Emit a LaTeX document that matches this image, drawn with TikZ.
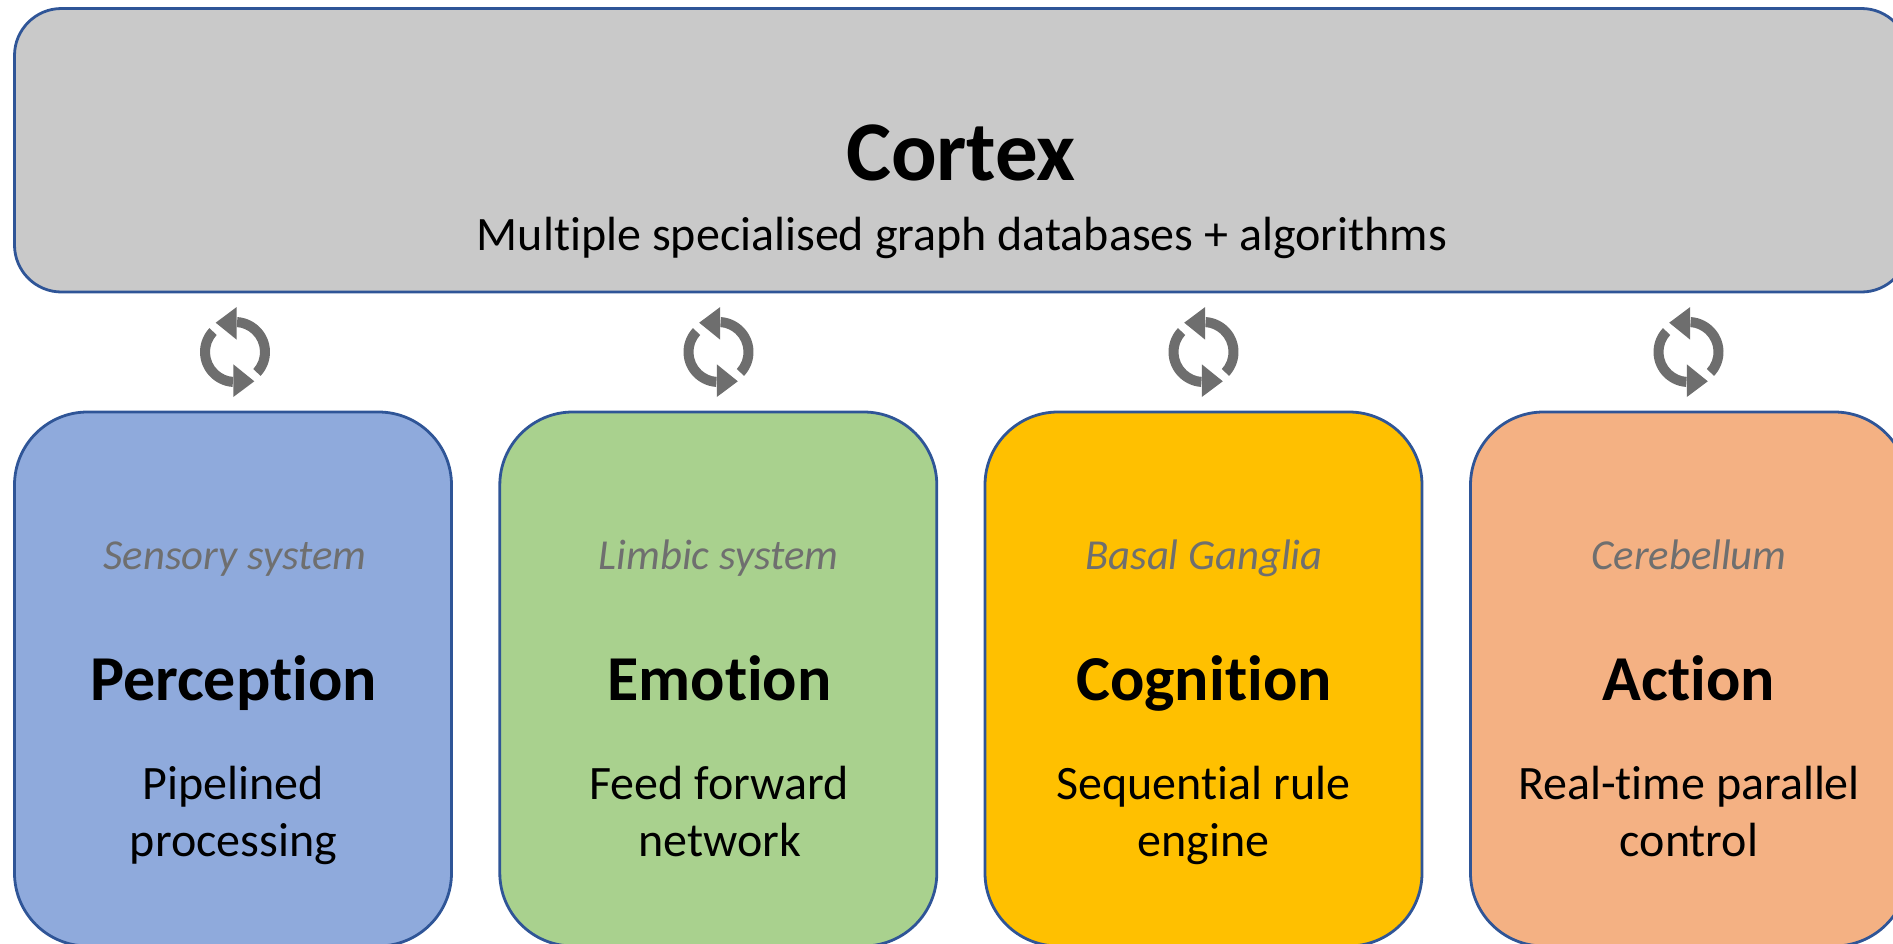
\documentclass[tikz,border=0pt]{standalone}
\usepackage{fontspec}
\setmainfont[Ligatures=NoCommon]{Carlito}
\definecolor{cortexfill}{HTML}{C9C9C9}
\definecolor{edgeblue}{HTML}{2F5597}
\definecolor{percfill}{HTML}{8FAADC}
\definecolor{emofill}{HTML}{A9D18E}
\definecolor{cogfill}{HTML}{FFC000}
\definecolor{actfill}{HTML}{F4B183}
\definecolor{icongrey}{HTML}{6E6E6E}
\definecolor{subgrey}{HTML}{6F6F6F}
\tikzset{
  x=1pt,y=1pt,
  cortexbox/.style={draw=edgeblue,line width=2.8pt,fill=cortexfill,rounded corners=47pt,minimum width=1894pt,minimum height=283.5pt,inner sep=0pt,outer sep=0pt,anchor=north west},
  modulebox/.style={draw=edgeblue,line width=2.8pt,rounded corners=73pt,minimum width=437pt,minimum height=534pt,inner sep=0pt,outer sep=0pt,anchor=north west},
  regionlabel/.style={font=\fontsize{42.7}{48}\selectfont\itshape,text=subgrey,anchor=base,inner sep=0pt},
  modulename/.style={font=\fontsize{64}{70}\selectfont\bfseries,text=black,anchor=base,inner sep=0pt},
  moduledesc/.style={font=\fontsize{48}{57}\selectfont,text=black,anchor=base,inner sep=0pt},
  syncicon/.pic={
    \fill[icongrey] (86:35) arc[start angle=86,end angle=-43,radius=35] -- (-43:25) arc[start angle=-43,end angle=86,radius=25] -- cycle;
    \fill[icongrey] (-19.3,29.3) -- (1.7,45) -- (1.7,12.3) -- cycle;
    \begin{scope}[rotate=180]
    \fill[icongrey] (86:35) arc[start angle=86,end angle=-43,radius=35] -- (-43:25) arc[start angle=-43,end angle=86,radius=25] -- cycle;
    \fill[icongrey] (-19.3,29.3) -- (1.7,45) -- (1.7,12.3) -- cycle;
    \end{scope}
  }
}
\begin{document}
\begin{tikzpicture}
\useasboundingbox (0,-943) rectangle (1893,0);
\clip (0,-943) rectangle (1893,0);
\node[cortexbox] (cortex) at (14.5,-8.5) {};
\node[font=\fontsize{85}{100}\selectfont\bfseries,anchor=base,inner sep=0pt] (cortextitle) at (961,-180) {Cortex};
\node[font=\fontsize{48}{57}\selectfont,anchor=base,inner sep=0pt] (cortexsub) at (962,-250) {Multiple specialised graph databases + algorithms};

\node[modulebox,fill=percfill] (perc) at (14.5,-412) {};
\node[modulebox,fill=emofill] (emo) at (499.8,-412) {};
\node[modulebox,fill=cogfill] (cog) at (985,-412) {};
\node[modulebox,fill=actfill] (act) at (1470.5,-412) {};

\pic at (235,-352) {syncicon};
\pic at (718.5,-352) {syncicon};
\pic at (1203.5,-352) {syncicon};
\pic at (1688.5,-352) {syncicon};

\node[regionlabel] (r1) at (235,-569) {Sensory system};
\node[regionlabel] (r2) at (718.5,-569) {Limbic system};
\node[regionlabel] (r3) at (1204,-569) {Basal Ganglia};
\node[regionlabel] (r4) at (1689,-569) {Cerebellum};

\node[modulename] (n1) at (233.5,-700) {Perception};
\node[modulename] (n2) at (719.5,-700) {Emotion};
\node[modulename] (n3) at (1204,-700) {Cognition};
\node[modulename] (n4) at (1689,-700) {Action};

\node[moduledesc] (d1a) at (233.5,-799.5) {Pipelined};
\node[moduledesc] (d1b) at (233.5,-856.5) {processing};
\node[moduledesc] (d2a) at (719,-799.5) {Feed forward};
\node[moduledesc] (d2b) at (719.5,-856.5) {network};
\node[moduledesc] (d3a) at (1203.5,-799.5) {Sequential rule};
\node[moduledesc] (d3b) at (1203.5,-856.5) {engine};
\node[moduledesc] (d4a) at (1689,-799.5) {Real-time parallel};
\node[moduledesc] (d4b) at (1689,-856.5) {control};
\end{tikzpicture}
\end{document}
